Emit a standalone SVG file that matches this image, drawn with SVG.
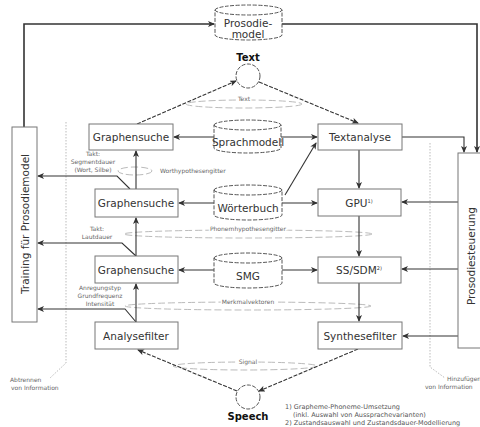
<svg xmlns="http://www.w3.org/2000/svg" width="480" height="427" viewBox="0 0 480 427">
<style>
text{font-family:"DejaVu Sans","Liberation Sans",sans-serif;fill:#333}
.lbl{font-size:10.5px;text-anchor:middle}
.bold{font-size:10px;font-weight:bold;text-anchor:middle;fill:#111}
.sm{font-size:6px;fill:#666}
.smc{font-size:6px;fill:#666;text-anchor:middle}
.fn{font-size:6.5px;fill:#555}
.box{fill:#fff;stroke:#777;stroke-width:1}
.cyl{fill:#fff;stroke:#555;stroke-width:1;stroke-dasharray:4 1.5}
.circ{fill:#fff;stroke:#555;stroke-width:1;stroke-dasharray:4 1.5}
.ln{fill:none;stroke:#333;stroke-width:1.1}
.thick{fill:none;stroke:#333;stroke-width:1.6}
.dl{fill:none;stroke:#333;stroke-width:1.1;stroke-dasharray:4 1.5}
.gl{fill:none;stroke:#bbb;stroke-width:1;stroke-dasharray:7 3}
.dot{fill:none;stroke:#bbb;stroke-width:1;stroke-dasharray:1.5 1.5}
.halo{paint-order:stroke;stroke:#fff;stroke-width:3}
</style>
<defs>
<marker id="ah" markerWidth="7" markerHeight="6" refX="6" refY="3" orient="auto" markerUnits="userSpaceOnUse">
<path d="M0,0 L7,3 L0,6 L1.8,3 z" fill="#333"/>
</marker>
</defs>

<g id="lattices">
<ellipse class="gl" cx="244" cy="104" rx="58" ry="4"/>
<text class="smc halo" x="244" y="101">Text</text>
<ellipse class="gl" cx="135" cy="171" rx="17" ry="4"/>
<text class="sm" x="160" y="173">Worthypothesengitter</text>
<ellipse class="gl" cx="248" cy="234" rx="124" ry="4"/>
<text class="smc halo" x="248" y="231">Phonemhypothesengitter</text>
<ellipse class="gl" cx="248" cy="306" rx="123" ry="4"/>
<text class="smc halo" x="248" y="304">Merkmalvektoren</text>
<ellipse class="gl" cx="245" cy="366" rx="72" ry="4"/>
<text class="smc halo" x="248" y="364">Signal</text>
</g>

<g id="separators">
<path class="dot" d="M66,122 L66,363 L50,378"/>
<path class="dot" d="M430,143 L430,367 L445,378"/>
<text class="sm" x="10" y="382">Abtrennen</text>
<text class="sm" x="11" y="390">von Information</text>
<text class="sm" x="447" y="381">Hinzufügen</text>
<text class="sm" x="425" y="389">von Information</text>
</g>

<g id="connectors">
<path class="thick" d="M24,127 L24,24 L214,24" marker-end="url(#ah)"/>
<path class="thick" d="M282,24 L477,24 L477,152" marker-end="url(#ah)"/>
<path class="ln" d="M402,137 L464,137 L464,152" marker-end="url(#ah)"/>
<path class="dl" d="M137,124 L236,81" marker-end="url(#ah)"/>
<path class="dl" d="M259,82 L358,123" marker-end="url(#ah)"/>
<path class="ln" d="M214,137 L174,137" marker-end="url(#ah)"/>
<path class="ln" d="M281,137 L317,137" marker-end="url(#ah)"/>
<path class="ln" d="M214,203 L179,203" marker-end="url(#ah)"/>
<path class="ln" d="M282,203 L317,203" marker-end="url(#ah)"/>
<path class="ln" d="M285,195 L316,143" marker-end="url(#ah)"/>
<path class="ln" d="M359,150 L359,188" marker-end="url(#ah)"/>
<path class="ln" d="M359,216 L359,256" marker-end="url(#ah)"/>
<path class="ln" d="M359,283 L359,321" marker-end="url(#ah)"/>
<path class="ln" d="M214,270 L179,270" marker-end="url(#ah)"/>
<path class="ln" d="M282,270 L317,270" marker-end="url(#ah)"/>
<path class="ln" d="M458,202 L402,202" marker-end="url(#ah)"/>
<path class="ln" d="M458,269 L402,269" marker-end="url(#ah)"/>
<path class="ln" d="M458,336 L403,336" marker-end="url(#ah)"/>
<path class="ln" d="M136,322 L136,284" marker-end="url(#ah)"/>
<path class="ln" d="M136,256 L136,218" marker-end="url(#ah)"/>
<path class="ln" d="M136,189 L136,151" marker-end="url(#ah)"/>
<path class="ln" d="M130,189 L117,176 L38,176" marker-end="url(#ah)"/>
<path class="ln" d="M136,256 L122,243 L38,243" marker-end="url(#ah)"/>
<path class="ln" d="M136,322 L125,309 L38,309" marker-end="url(#ah)"/>
<path class="dl" d="M358,349 L259,391" marker-end="url(#ah)"/>
<path class="dl" d="M237,391 L138,350" marker-end="url(#ah)"/>
</g>

<g id="prosodiemodel">
<path class="cyl" d="M215,10 A33.5,5 0 0 1 282,10 L282,35 A33.5,5 0 0 1 215,35 Z M215,10 A33.5,5 0 0 0 282,10"/>
<text class="lbl" x="248" y="27">Prosodie-</text>
<text class="lbl" x="248" y="38">model</text>
</g>

<g id="text-node">
<text class="bold" x="248" y="61">Text</text>
<circle class="circ" cx="248" cy="76" r="12"/>
</g>

<g id="graphensuche1">
<rect class="box" x="89" y="124" width="84" height="26"/>
<text class="lbl" x="131" y="141">Graphensuche</text>
</g>

<g id="sprachmodell">
<path class="cyl" d="M214,125 A33.5,5 0 0 1 281,125 L281,148 A33.5,5 0 0 1 214,148 Z M214,125 A33.5,5 0 0 0 281,125"/>
<text class="lbl" x="248" y="146">Sprachmodell</text>
</g>

<g id="textanalyse">
<rect class="box" x="318" y="124" width="84" height="26"/>
<text class="lbl" x="360" y="141">Textanalyse</text>
</g>

<g id="graphensuche2">
<rect class="box" x="95" y="189" width="83" height="28"/>
<text class="lbl" x="136" y="207">Graphensuche</text>
<text class="smc" x="93" y="156">Takt:</text>
<text class="smc" x="93" y="164">Segmentdauer</text>
<text class="smc" x="93" y="172">(Wort, Silbe)</text>
</g>

<g id="woerterbuch">
<path class="cyl" d="M214,190 A34,5 0 0 1 282,190 L282,215 A34,5 0 0 1 214,215 Z M214,190 A34,5 0 0 0 282,190"/>
<text class="lbl" x="248" y="212">Wörterbuch</text>
</g>

<g id="gpu">
<rect class="box" x="318" y="189" width="83" height="27"/>
<text class="lbl" x="359" y="207">GPU<tspan font-size="5" dy="-4">1)</tspan></text>
</g>

<g id="graphensuche3">
<rect class="box" x="95" y="256" width="83" height="27"/>
<text class="lbl" x="136" y="274">Graphensuche</text>
<text class="smc" x="97" y="231">Takt:</text>
<text class="smc" x="97" y="239">Lautdauer</text>
</g>

<g id="smg">
<path class="cyl" d="M214,258 A34,5 0 0 1 282,258 L282,283 A34,5 0 0 1 214,283 Z M214,258 A34,5 0 0 0 282,258"/>
<text class="lbl" x="248" y="280">SMG</text>
</g>

<g id="sssdm">
<rect class="box" x="318" y="257" width="83" height="26"/>
<text class="lbl" x="359" y="274">SS/SDM<tspan font-size="5" dy="-4">2)</tspan></text>
</g>

<g id="analysefilter">
<rect class="box" x="95" y="322" width="83" height="27"/>
<text class="lbl" x="136" y="340">Analysefilter</text>
<text class="smc" x="100" y="290">Anregungstyp</text>
<text class="smc" x="100" y="298">Grundfrequenz</text>
<text class="smc" x="100" y="306">Intensität</text>
</g>

<g id="synthesefilter">
<rect class="box" x="318" y="322" width="84" height="27"/>
<text class="lbl" x="360" y="340">Synthesefilter</text>
</g>

<g id="speech">
<circle class="circ" cx="248" cy="397" r="12"/>
<text class="bold" x="248" y="420">Speech</text>
</g>

<g id="training">
<rect class="box" x="12" y="127" width="25" height="195"/>
<text class="lbl" transform="translate(28.5,224) rotate(-90)">Training für Prosodiemodel</text>
</g>

<g id="prosodiesteuerung">
<rect class="box" x="458" y="153" width="30" height="195"/>
<text class="lbl" transform="translate(474.5,256) rotate(-90)">Prosodiesteuerung</text>
</g>

<g id="footnotes">
<text class="fn" x="285" y="409">1) Grapheme-Phoneme-Umsetzung</text>
<text class="fn" x="293" y="417">(inkl. Auswahl von Aussprachevarianten)</text>
<text class="fn" x="285" y="425">2) Zustandsauswahl und Zustandsdauer-Modellierung</text>
</g>
</svg>
